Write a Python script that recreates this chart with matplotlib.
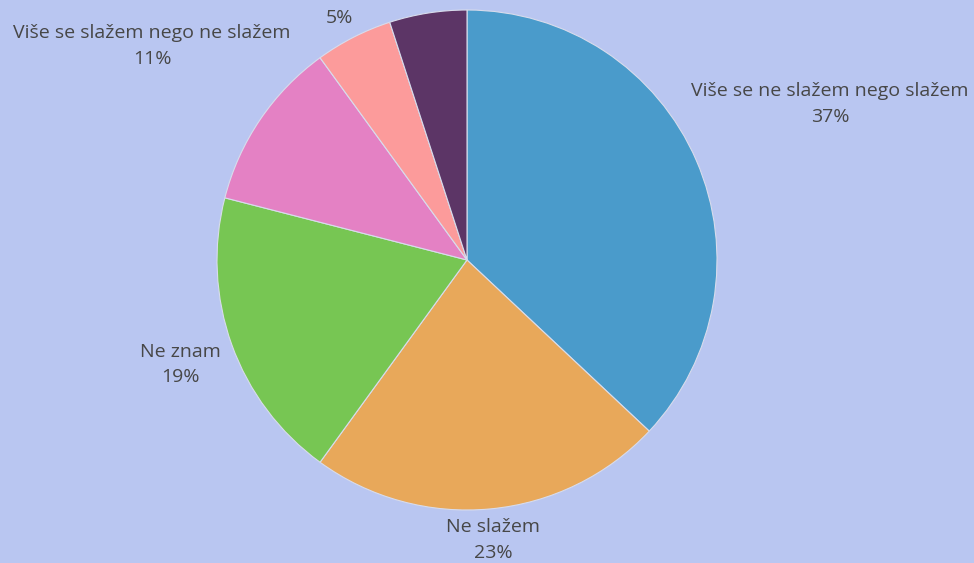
import numpy as np
import matplotlib
matplotlib.use("Agg")
import matplotlib.pyplot as plt

# slices, clockwise from 12 o'clock
labels = ["Više se ne slažem nego slažem", "Ne slažem", "Ne znam",
          "Više se slažem nego ne slažem", "", ""]
values = [37, 23, 19, 11, 5, 5]
colors = ["#4a9bcb", "#e8a85a", "#77c653", "#e481c4", "#fc9b9b", "#5c3566"]
show_label = [True, True, True, True, True, False]

# label anchor positions (pie radius = 1)
label_pos = [(1.452, 0.624), (0.104, -1.12), (-1.148, -0.42),
             (-1.26, 0.856), (-0.512, 0.968), None]

bg = "#b9c6f1"
plt.rcParams["font.family"] = ["Open Sans", "DejaVu Sans"]

fig = plt.figure(figsize=(9.74, 5.63), dpi=100, facecolor=bg)
W, H = 974, 563
cx, cy, r = 467, 260, 250
ax = fig.add_axes([(cx - r) / W, (H - cy - r) / H, 2 * r / W, 2 * r / H])
ax.set_facecolor(bg)
ax.pie(values, colors=colors, startangle=90, counterclock=False, radius=1,
       wedgeprops=dict(edgecolor="#d8dcec", linewidth=0.8))
ax.set_xlim(-1, 1); ax.set_ylim(-1, 1)
ax.set_aspect("equal")
ax.axis("off")

for lab, v, pos, show in zip(labels, values, label_pos, show_label):
    if not show:
        continue
    txt = f"{lab}\n{v}%" if lab else f"{v}%"
    ax.text(pos[0], pos[1], txt, ha="center", va="center", fontsize=14,
            color="#474747", linespacing=1.5, clip_on=False)

fig.savefig("out.png", dpi=100, facecolor=bg)
